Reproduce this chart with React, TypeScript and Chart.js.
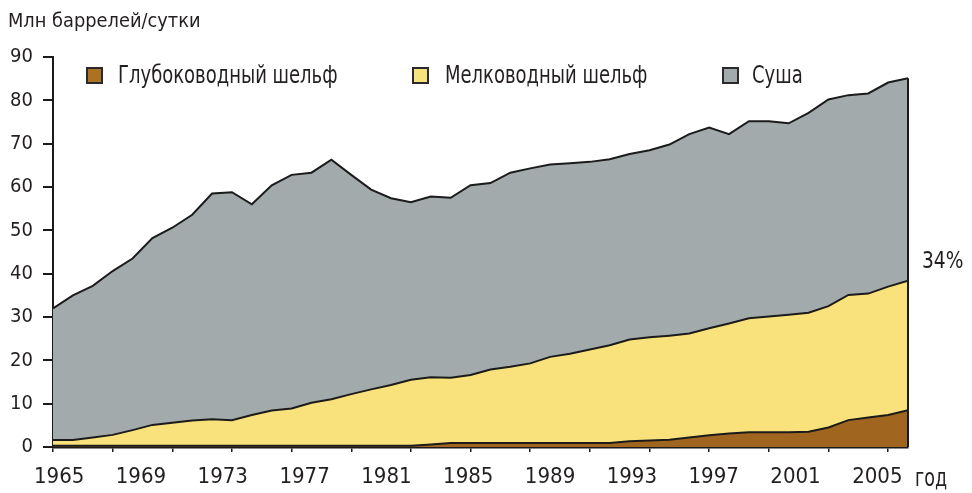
import React, { useEffect, useRef } from "react";
import { Chart, registerables } from "chart.js";

Chart.register(...registerables);

const FONT = '"Liberation Sans Narrow", "DejaVu Sans Condensed", "Roboto", sans-serif';
const TEXT = "#231f20";
const LINE = "#1b1b1b";

const YEARS = [
  1965, 1966, 1967, 1968, 1969, 1970, 1971, 1972, 1973, 1974, 1975,
  1976, 1977, 1978, 1979, 1980, 1981, 1982, 1983, 1984, 1985, 1986,
  1987, 1988, 1989, 1990, 1991, 1992, 1993, 1994, 1995, 1996, 1997,
  1998, 1999, 2000, 2001, 2002, 2003, 2004, 2005, 2006, 2007, 2008,
];

// Глубоководный шельф
const DEEP = [
  0.3, 0.3, 0.3, 0.3, 0.3, 0.3, 0.3, 0.3, 0.3, 0.3, 0.3,
  0.3, 0.3, 0.3, 0.3, 0.3, 0.3, 0.3, 0.3, 0.6, 0.9, 0.9,
  0.9, 0.9, 0.9, 0.9, 0.9, 0.9, 0.9, 1.3, 1.5, 1.7, 2.2,
  2.7, 3.1, 3.4, 3.4, 3.4, 3.5, 4.5, 6.2, 6.8, 7.4, 8.5,
];

// Мелководный шельф
const SHALLOW = [
  1.3, 1.3, 1.9, 2.5, 3.6, 4.8, 5.3, 5.8, 6.1, 5.9, 7.1,
  8.1, 8.6, 9.9, 10.7, 11.9, 13.0, 14.0, 15.2, 15.5, 15.1, 15.7,
  17.0, 17.6, 18.4, 19.9, 20.6, 21.6, 22.6, 23.5, 23.8, 24.0, 24.0,
  24.7, 25.4, 26.3, 26.7, 27.1, 27.5, 28.0, 28.9, 28.6, 29.6, 29.9,
];

// Суша
const LAND = [
  30.4, 33.4, 35.0, 37.8, 39.6, 43.1, 45.0, 47.5, 52.1, 52.6, 48.6,
  52.0, 53.9, 53.1, 55.3, 50.6, 46.1, 43.1, 41.0, 41.7, 41.5, 43.8,
  43.0, 44.8, 45.0, 44.4, 44.0, 43.3, 42.9, 42.8, 43.2, 44.1, 46.0,
  46.3, 43.7, 45.5, 45.1, 44.2, 46.1, 47.7, 46.1, 46.2, 47.1, 46.7,
];

const SERIES_LABELS = ["Глубоководный шельф", "Мелководный шельф", "Суша"];
const SERIES_COLORS = ["#a0661f", "#f9e27b", "#a3aaab"];
const LEGEND_COLORS = ["#ad7122", "#f6e37c", "#a3aaab"];
const X_LABEL_YEARS = [1965, 1969, 1973, 1977, 1981, 1985, 1989, 1993, 1997, 2001, 2005];
const Y_TITLE = "Млн баррелей/сутки";
const X_UNIT = "год";
const SHARE_NOTE = "34%";

function squeezedText(ctx: any, text: string, x: number, y: number, sx: number) {
  ctx.save();
  ctx.translate(x, y);
  ctx.scale(sx, 1);
  ctx.fillText(text, 0, 0);
  ctx.restore();
}

const decorations = {
  id: "decorations",
  afterDatasetsDraw(chart: any) {
    const ctx = chart.ctx;
    const x = chart.scales.x;
    const y = chart.scales.y;
    const last = YEARS.length - 1;
    const pt = chart.getDatasetMeta(2).data[last];
    const px = x.getPixelForValue(YEARS[last]);
    ctx.save();
    ctx.strokeStyle = LINE;
    ctx.lineWidth = 2;
    ctx.beginPath();
    ctx.moveTo(px, y.getPixelForValue(0));
    ctx.lineTo(px, pt.y);
    ctx.stroke();
    ctx.restore();
  },
  afterDraw(chart: any) {
    const ctx = chart.ctx;
    ctx.save();
    ctx.fillStyle = TEXT;
    ctx.textBaseline = "alphabetic";
    ctx.textAlign = "left";
    ctx.font = `20px ${FONT}`;
    squeezedText(ctx, Y_TITLE, 8, 27, 0.99);

    ctx.font = `23px ${FONT}`;
    squeezedText(ctx, SHARE_NOTE, 922, 268, 0.9);

    ctx.font = `25px ${FONT}`;
    squeezedText(ctx, X_UNIT, 915, 486, 0.78);

    // legend
    const boxX = [87, 413, 723];
    const textX = [118, 445, 752];
    ctx.font = `25px ${FONT}`;
    ctx.textBaseline = "middle";
    SERIES_LABELS.forEach((lab, i) => {
      ctx.fillStyle = LEGEND_COLORS[i];
      ctx.fillRect(boxX[i], 68, 15, 15);
      ctx.strokeStyle = "#2a2a2a";
      ctx.lineWidth = 2;
      ctx.strokeRect(boxX[i], 68, 15, 15);
      ctx.fillStyle = TEXT;
      squeezedText(ctx, lab, textX[i], 76, 0.8);
    });
    ctx.restore();
  },
};

export default function App() {
  const ref = useRef<HTMLCanvasElement | null>(null);

  useEffect(() => {
    if (!ref.current) return;
    Chart.defaults.font.family = FONT;
    const seriesData = [DEEP, SHALLOW, LAND];
    const chart = new Chart(ref.current, {
      type: "line",
      data: {
        labels: YEARS,
        datasets: seriesData.map((d, i) => ({
          label: SERIES_LABELS[i],
          data: d,
          backgroundColor: SERIES_COLORS[i],
          borderColor: LINE,
          borderWidth: 2,
          pointRadius: 0,
          tension: 0,
          fill: i === 0 ? "origin" : "-1",
        })),
      },
      options: {
        responsive: false,
        animation: false,
        devicePixelRatio: 1,
        layout: { padding: { top: 57, left: 0, right: 64, bottom: 0 } },
        plugins: {
          legend: { display: false },
          tooltip: { enabled: false },
          title: { display: false },
        },
        scales: {
          x: {
            type: "linear",
            position: "bottom",
            min: YEARS[0],
            max: YEARS[YEARS.length - 1],
            weight: 0,
            ticks: { display: false, stepSize: 3, includeBounds: false },
            grid: {
              display: true,
              drawOnChartArea: false,
              drawTicks: true,
              tickLength: 5,
              color: LINE,
              lineWidth: 1.5,
            },
            border: { display: true, color: LINE, width: 2.5 },
            afterFit: (s: any) => {
              s.height = 8;
            },
          },
          xl: {
            type: "linear",
            position: "bottom",
            min: 1964.7,
            max: 2006.5,
            weight: 1,
            grid: { display: false, drawTicks: false },
            border: { display: false },
            ticks: {
              color: TEXT,
              font: { family: FONT, size: 22 },
              padding: 9,
              maxRotation: 0,
              autoSkip: false,
              callback: (v: any) => String(v),
            },
            afterBuildTicks: (s: any) => {
              s.ticks = X_LABEL_YEARS.map((v) => ({ value: v }));
            },
            afterFit: (s: any) => {
              s.height = 38;
            },
          },
          y: {
            stacked: true,
            min: 0,
            max: 90,
            ticks: {
              stepSize: 10,
              color: TEXT,
              font: { family: FONT, size: 20 },
              padding: 10,
            },
            grid: {
              display: true,
              drawOnChartArea: false,
              drawTicks: true,
              tickLength: 10,
              color: LINE,
              lineWidth: 2,
            },
            border: { display: true, color: LINE, width: 2 },
            afterFit: (s: any) => {
              s.width = 53;
            },
          },
        },
      },
      plugins: [decorations],
    });
    return () => chart.destroy();
  }, []);

  return (
    <div style={{ position: "absolute", left: 0, top: 0, width: 972, height: 493, background: "#fff" }}>
      <canvas ref={ref} width={972} height={493} style={{ width: 972, height: 493 }} />
    </div>
  );
}
